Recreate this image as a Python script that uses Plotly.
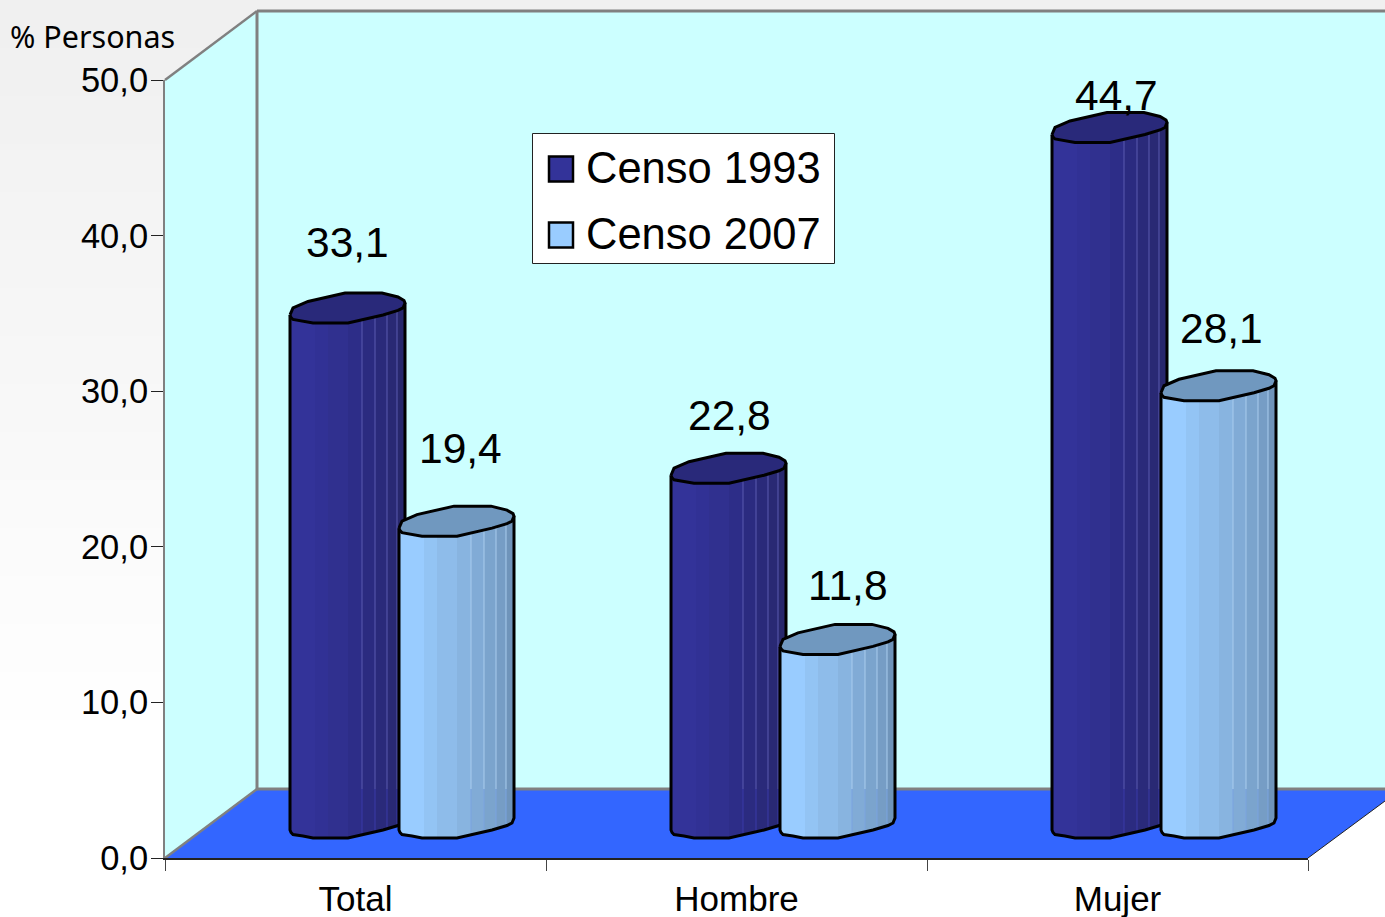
import numpy as np
import plotly.graph_objects as go

CATEGORIES = ["Total", "Hombre", "Mujer"]
CENSO_1993 = [33.1, 22.8, 44.7]
CENSO_2007 = [19.4, 11.8, 28.1]
Y_TICKS = [0, 10, 20, 30, 40, 50]
SERIES_NAMES = ["Censo 1993", "Censo 2007"]

W, H = 1385, 917
X0, X1 = 165, 1308      # front plane, pixels
Y0, Y50 = 858, 80
BACK_DX, BACK_DY = 92, 69
PX_Y = (Y0 - Y50) / 50
PX_X = (X1 - X0) / 3
DEPTH = (Y0 - 838) / PX_Y   # lift of cylinders above front plane (value units)

# Cylinder cross section, in px relative to bar's left edge / lowest point
FRONT_U = [0, 1, 3, 13, 23, 58, 93, 108, 113, 115]
FRONT_V = [8, 5.5, 3.5, 2, 0, 0, 8, 12.5, 15, 20]
BACK_U = [114, 108, 92, 55, 18, 3, 1]
BACK_V = [22.5, 26, 30, 30, 21.5, 15, 11]
BAR_W = 115
BAND_U = [0, 25, 38, 58, 72, 85, 97, 107, 115]
STYLE = [
    dict(offset=125, lid="#29297A", hi="#5A5AB0", hi_low="#3A3AA8",
         bands=["#333399", "#313195", "#30308F", "#2D2D88", "#2B2B80", "#2A2A7A", "#292974", "#27276C"]),
    dict(offset=234, lid="#7098BF", hi="#A9CCEE", hi_low="#7AA3E0",
         bands=["#99CCFF", "#93C4F4", "#8EBCEA", "#88B4E0", "#81ABD6", "#7BA4CD", "#769DC5", "#6F94BA"]),
]
# Hand-placed label offsets from bar centre (dx px) and lid top (dy px)
LABEL_DX = [[0, 4], [1, 10], [7, 3]]
LABEL_DY = [[50, 58], [38, 39], [17, 42]]
FLOOR_VAL = BACK_DY / PX_Y


def px(x, y):
    return x / W, 1 - y / H


def poly_path(points):
    parts = []
    for i, (x, y) in enumerate(points):
        a, b = px(x, y)
        parts.append(("M" if i == 0 else "L") + f"{a:.5f},{b:.5f}")
    return " ".join(parts) + " Z"


def seg(x0, y0, x1, y1, color, width):
    a0, b0 = px(x0, y0)
    a1, b1 = px(x1, y1)
    return dict(type="line", xref="paper", yref="paper", x0=a0, y0=b0, x1=a1, y1=b1,
                layer="below", line=dict(color=color, width=width))


shapes = []
# Page background: banded grey fading to white
for i in range(15):
    a, b = px(0, i * 48)
    c, d = px(W, (i + 1) * 48)
    lvl = 240 + i
    shapes.append(dict(type="rect", xref="paper", yref="paper", x0=a, y0=b, x1=c, y1=d, layer="below",
                       fillcolor=f"rgb({lvl},{lvl},{lvl})", line=dict(width=0)))
BX, BY_T, BY_B = X0 + BACK_DX, Y50 - BACK_DY, Y0 - BACK_DY
for pts, col in [
    ([(X0, Y50), (BX, BY_T), (W, BY_T), (W, BY_B), (BX, BY_B), (X0, Y0)], "#CCFFFF"),
    ([(X0, Y0), (BX, BY_B), (W, BY_B), (W, 801), (X1, Y0)], "#3366FF"),
]:
    shapes.append(dict(type="path", xref="paper", yref="paper", path=poly_path(pts), layer="below",
                       fillcolor=col, line=dict(width=0)))
GREY = "#808080"
shapes += [
    seg(BX, BY_T, W, BY_T, GREY, 3),
    seg(BX, BY_T, BX, BY_B, GREY, 3),
    seg(BX, BY_B, W, BY_B, GREY, 3),
    seg(X0, Y50, BX, BY_T, GREY, 2.5),
    seg(X0, Y0, BX, BY_B, GREY, 2.5),
    seg(X1, Y0, W, 801, "#222222", 1),
]

fig = go.Figure()
# Carries the category axis
fig.add_trace(go.Scatter(x=CATEGORIES, y=[0, 0, 0], mode="markers", marker=dict(opacity=0),
                         showlegend=False, hoverinfo="skip"))


def add_cylinder(axis, cat_i, s_i, value):
    st = STYLE[s_i]
    left = cat_i + st["offset"] / PX_X
    xs = lambda us: [left + u / PX_X for u in us]
    top_of = lambda vs: [value + DEPTH + v / PX_Y for v in vs]
    bot_of = lambda vs: [DEPTH + v / PX_Y for v in vs]
    prof = lambda us: np.interp(us, FRONT_U, FRONT_V)
    for j, col in enumerate(st["bands"]):
        u0, u1 = BAND_U[j], min(BAND_U[j + 1] + 1, BAR_W)
        us = sorted({u0, u1, *[u for u in FRONT_U if u0 < u < u1]})
        vs = [float(v) for v in prof(us)]
        fig.add_trace(go.Scatter(
            x=xs(us) + xs(us[::-1]), y=bot_of(vs) + top_of(vs[::-1]),
            xaxis=axis, yaxis="y", mode="lines", fill="toself", fillcolor=col,
            line=dict(width=0), showlegend=False, hoverinfo="skip"))
    # thin highlight lines on the shaded side
    for u in BAND_U[4:8]:
        v = float(prof(u))
        for lo, hi, c in [(DEPTH + v / PX_Y, FLOOR_VAL, st["hi_low"]), (FLOOR_VAL, value + DEPTH + v / PX_Y, st["hi"])]:
            fig.add_trace(go.Scatter(x=xs([u, u]), y=[lo, hi], xaxis=axis, yaxis="y", mode="lines",
                                     line=dict(width=1, color=c), showlegend=False, hoverinfo="skip"))
    # outline of the body
    vs = list(FRONT_V)
    fig.add_trace(go.Scatter(
        x=xs([0] + FRONT_U + [BAR_W]),
        y=[value + DEPTH + vs[0] / PX_Y] + bot_of(vs) + [value + DEPTH + vs[-1] / PX_Y],
        xaxis=axis, yaxis="y", mode="lines", line=dict(color="black", width=3),
        showlegend=False, hoverinfo="skip"))
    # lid
    lu = FRONT_U + BACK_U + FRONT_U[:1]
    lv = FRONT_V + BACK_V + FRONT_V[:1]
    fig.add_trace(go.Scatter(
        x=xs(lu), y=top_of(lv), xaxis=axis, yaxis="y", mode="lines", fill="toself",
        fillcolor=st["lid"], line=dict(color="black", width=3),
        name=f"{SERIES_NAMES[s_i]} {CATEGORIES[cat_i]}", showlegend=False,
        hovertemplate=f"{CATEGORIES[cat_i]}: {value}<extra></extra>"))


annotations = []
for s_i, (axis, values) in enumerate([("x2", CENSO_1993), ("x3", CENSO_2007)]):
    for c_i, val in enumerate(values):
        add_cylinder(axis, c_i, s_i, val)
        annotations.append(dict(
            xref=axis, yref="y", x=c_i + (STYLE[s_i]["offset"] + BAR_W / 2) / PX_X,
            y=val + DEPTH + 30 / PX_Y, xshift=LABEL_DX[c_i][s_i], yshift=LABEL_DY[c_i][s_i],
            text=f"{val:.1f}".replace(".", ","), showarrow=False, xanchor="center", yanchor="middle",
            font=dict(family="Liberation Sans", size=42.5, color="black")))

# Legend, drawn to size
lx0, ly0 = px(532.5, 133.5)
lx1, ly1 = px(834.5, 263.5)
shapes.append(dict(type="rect", xref="paper", yref="paper", x0=lx0, y0=ly0, x1=lx1, y1=ly1, layer="above",
                   fillcolor="white", line=dict(color="#222222", width=1)))
for name, col, yc in [(SERIES_NAMES[0], "#333399", 169), (SERIES_NAMES[1], "#99CCFF", 235)]:
    a, b = px(549, yc - 12.5)
    c, d = px(573, yc + 12.5)
    shapes.append(dict(type="rect", xref="paper", yref="paper", x0=a, y0=b, x1=c, y1=d, layer="above",
                       fillcolor=col, line=dict(color="black", width=2.5)))
    tx, ty = px(584, yc - 1)
    annotations.append(dict(xref="paper", yref="paper", x=tx, y=ty, text=name, showarrow=False,
                            xanchor="left", yanchor="middle",
                            font=dict(family="Liberation Sans", size=43.5, color="black")))
# Axis caption
tx, ty = px(8, 36)
annotations.append(dict(xref="paper", yref="paper", x=tx, y=ty, text="% Personas", showarrow=False,
                        xanchor="left", yanchor="middle",
                        font=dict(family="Noto Sans", size=30.5, color="black")))

x_dom = [X0 / W, X1 / W]
fig.update_layout(
    width=W, height=H, margin=dict(l=0, r=0, t=0, b=0, pad=0), autosize=False,
    paper_bgcolor="white", plot_bgcolor="rgba(0,0,0,0)", showlegend=False, separators=",.",
    shapes=shapes, annotations=annotations,
    xaxis=dict(domain=x_dom, type="category", range=[-0.5, 2.5], tickson="boundaries", ticks="outside",
               automargin=False, ticklabelstandoff=9,
               ticklen=11, tickwidth=1, tickcolor="#444444", showgrid=False, zeroline=False, showline=True,
               linecolor="#222222", linewidth=1.5, categoryorder="array", categoryarray=CATEGORIES,
               tickfont=dict(family="Liberation Sans", size=35, color="black")),
    xaxis2=dict(overlaying="x", range=[0, 3], visible=False, anchor="y", automargin=False),
    xaxis3=dict(overlaying="x", range=[0, 3], visible=False, anchor="y", automargin=False),
    yaxis=dict(domain=[1 - Y0 / H, 1 - Y50 / H], range=[0, 50], tickvals=Y_TICKS, tickformat=".1f",
               automargin=False, ticklabelstandoff=-4,
               ticks="outside", ticklen=12, tickwidth=1, tickcolor="#222222", showgrid=False, zeroline=False,
               showline=True, linecolor=GREY, linewidth=2,
               tickfont=dict(family="Liberation Sans", size=34.5, color="black")),
)
fig.write_html("out.html", config=dict(displayModeBar=False),
               post_script="document.body.style.margin='0';")
